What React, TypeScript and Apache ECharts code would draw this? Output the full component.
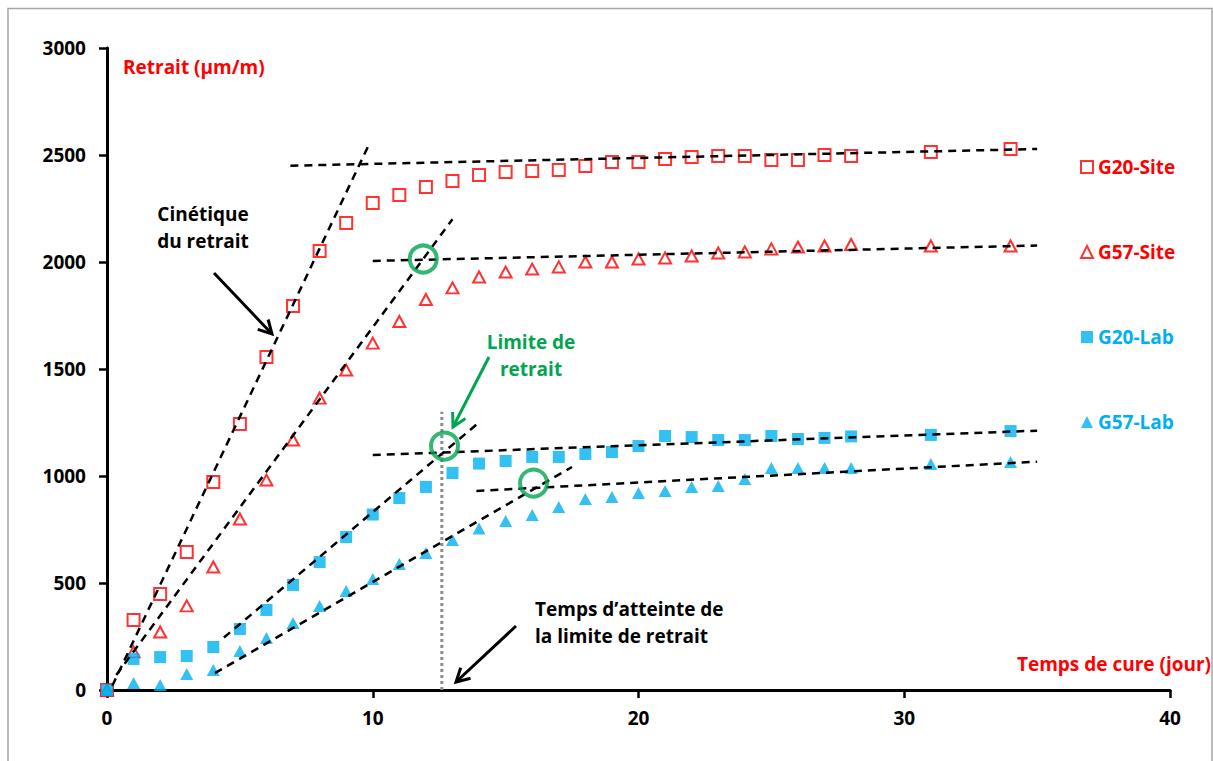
import React, { useEffect, useRef } from "react";
import * as echarts from "echarts";

const days = [0, 1, 2, 3, 4, 5, 6, 7, 8, 9, 10, 11, 12, 13, 14, 15, 16, 17, 18, 19, 20, 21, 22, 23, 24, 25, 26, 27, 28, 31, 34];
const g20Site = [0, 327, 449, 645, 972, 1243, 1556, 1794, 2051, 2182, 2276, 2313, 2350, 2379, 2407, 2421, 2425, 2430, 2449, 2467, 2467, 2481, 2491, 2495, 2495, 2477, 2477, 2500, 2495, 2514, 2528];
const g57Site = [0, 178, 271, 393, 575, 799, 981, 1168, 1364, 1495, 1621, 1722, 1825, 1879, 1930, 1953, 1967, 1977, 2000, 2000, 2014, 2019, 2028, 2042, 2047, 2061, 2070, 2075, 2082, 2075, 2075];
const g20Lab = [0, 145, 154, 159, 201, 285, 374, 491, 598, 715, 820, 897, 949, 1014, 1058, 1070, 1089, 1089, 1103, 1112, 1140, 1187, 1182, 1168, 1168, 1187, 1173, 1178, 1185, 1192, 1210];
const g57Lab = [0, 33, 23, 75, 93, 182, 243, 313, 393, 463, 519, 589, 640, 701, 755, 790, 818, 855, 893, 902, 921, 930, 949, 953, 986, 1037, 1037, 1037, 1037, 1056, 1065];

const seriesNames = ["G20-Site", "G57-Site", "G20-Lab", "G57-Lab"];

// Trend lines (start / end points in data units)
const trendLines: number[][][] = [
  [[0.2, 20], [9.9, 2560]],
  [[6.9, 2450], [35, 2528]],
  [[0.35, 70], [13, 2200]],
  [[10, 2005], [35, 2077]],
  [[4.4, 245], [13.9, 1240]],
  [[10, 1098], [35, 1212]],
  [[4.06, 79], [17.5, 1042]],
  [[13.9, 930], [35, 1067]],
];
const limitLine = [[12.6, 0], [12.6, 1300]];
const limitCircles = [[11.9, 2014], [12.7, 1140], [16.05, 967]];

const xTicks = { min: 0, max: 40, interval: 10 };
const yTicks = { min: 0, max: 3000, interval: 500 };

const RED = "#ff0000";
const BLUE = "#00b0f0";
const GREEN = "#00a550";
const FONT = "Open Sans";

function zip(ys: number[]) {
  return days.map((d, i) => [d, ys[i]]);
}

function arrow(x1: number, y1: number, x2: number, y2: number, color: string) {
  const ang = Math.atan2(y2 - y1, x2 - x1);
  const L = 15;
  const a1 = ang + Math.PI - 0.5;
  const a2 = ang + Math.PI + 0.5;
  return {
    type: "group",
    children: [
      { type: "line", shape: { x1, y1, x2, y2 }, style: { stroke: color, lineWidth: 3 } },
      {
        type: "polyline",
        shape: {
          points: [
            [x2 + L * Math.cos(a1), y2 + L * Math.sin(a1)],
            [x2, y2],
            [x2 + L * Math.cos(a2), y2 + L * Math.sin(a2)],
          ],
        },
        style: { stroke: color, lineWidth: 3, fill: null },
      },
    ],
  };
}

function txt(x: number, y: number, text: string, color: string, align: string = "left") {
  return {
    type: "text",
    x,
    y,
    style: {
      text,
      fill: color,
      font: `bold 19px "${FONT}"`,
      align,
      verticalAlign: "middle",
      lineHeight: 27,
    },
  };
}

export default function App() {
  const ref = useRef<HTMLDivElement>(null);
  useEffect(() => {
    if (!ref.current) return;
    const chart = echarts.init(ref.current, null, { renderer: "svg" });
    const markerSeries = [
      { name: seriesNames[0], data: zip(g20Site), symbol: "rect", symbolSize: 12, itemStyle: { color: "#ffffff", borderColor: RED, borderWidth: 2 } },
      { name: seriesNames[1], data: zip(g57Site), symbol: "triangle", symbolSize: [12, 11], itemStyle: { color: "#ffffff", borderColor: RED, borderWidth: 2 } },
      { name: seriesNames[2], data: zip(g20Lab), symbol: "rect", symbolSize: 12, itemStyle: { color: BLUE, borderColor: BLUE, borderWidth: 0 } },
      { name: seriesNames[3], data: zip(g57Lab), symbol: "triangle", symbolSize: [13, 12], itemStyle: { color: BLUE, borderColor: BLUE, borderWidth: 0 } },
    ].map((s) => ({ type: "scatter", z: 3, ...s }));

    const trendSeries = trendLines.map((pts, i) => ({
      type: "line",
      name: "trend" + i,
      data: pts,
      symbol: "none",
      z: 4,
      lineStyle: { color: "#000", width: 2.5, type: [8, 6] },
    }));

    const labelStyle = { color: "#000", fontFamily: FONT, fontWeight: "bold", fontSize: 19 };

    chart.setOption({
      animation: false,
      grid: { left: 107, right: 43, top: 48, bottom: 71, containLabel: false },
      xAxis: {
        type: "value",
        ...xTicks,
        splitLine: { show: false },
        axisLine: { onZero: false, lineStyle: { color: "#000", width: 3 } },
        axisTick: { show: true, length: 8, lineStyle: { color: "#000", width: 2.5 } },
        axisLabel: { ...labelStyle, margin: 18, formatter: (v: number) => String(v) },
      },
      yAxis: {
        type: "value",
        ...yTicks,
        splitLine: { show: false },
        axisLine: { show: true, onZero: false, lineStyle: { color: "#000", width: 3 } },
        axisTick: { show: true, length: 8, lineStyle: { color: "#000", width: 2.5 } },
        axisLabel: { ...labelStyle, margin: 21, formatter: (v: number) => String(v) },
      },
      legend: {
        orient: "vertical",
        left: 1075,
        top: 152,
        itemWidth: 12,
        itemHeight: 12,
        itemGap: 65,
        textStyle: { fontFamily: FONT, fontWeight: "bold", fontSize: 19, lineHeight: 20 },
        data: [
          { name: seriesNames[0], textStyle: { color: RED } },
          { name: seriesNames[1], textStyle: { color: RED } },
          { name: seriesNames[2], textStyle: { color: BLUE } },
          { name: seriesNames[3], textStyle: { color: BLUE } },
        ],
      },
      series: [
        ...markerSeries,
        ...trendSeries,
        {
          type: "line",
          name: "limite",
          data: limitLine,
          symbol: "none",
          z: 2,
          lineStyle: { color: "#8c8c8c", width: 3, type: [3, 3] },
        },
        {
          type: "scatter",
          name: "circles",
          data: limitCircles,
          symbol: "circle",
          symbolSize: 27,
          z: 6,
          itemStyle: { color: "rgba(0,0,0,0)", borderColor: GREEN, borderWidth: 4 },
        },
      ],
      graphic: [
        {
          type: "rect",
          shape: { x: 8, y: 8.5, width: 1204, height: 800 },
          style: { fill: null, stroke: "#a6a6a6", lineWidth: 1.5 },
          silent: true,
        },
        txt(123, 67, "Retrait (µm/m)", RED),
        txt(1211, 664, "Temps de cure (jour)", RED, "right"),
        txt(203, 227, "Cinétique\ndu retrait", "#000", "center"),
        arrow(214, 273, 272, 334, "#000"),
        txt(531, 355, "Limite de\nretrait", GREEN, "center"),
        arrow(489, 357, 453, 427, GREEN),
        txt(535, 622, "Temps d’atteinte de\nla limite de retrait", "#000", "left"),
        arrow(516, 626, 456, 682, "#000"),
      ],
    });
    return () => chart.dispose();
  }, []);
  return <div ref={ref} style={{ position: "absolute", left: 0, top: 0, width: 1213, height: 761 }} />;
}
